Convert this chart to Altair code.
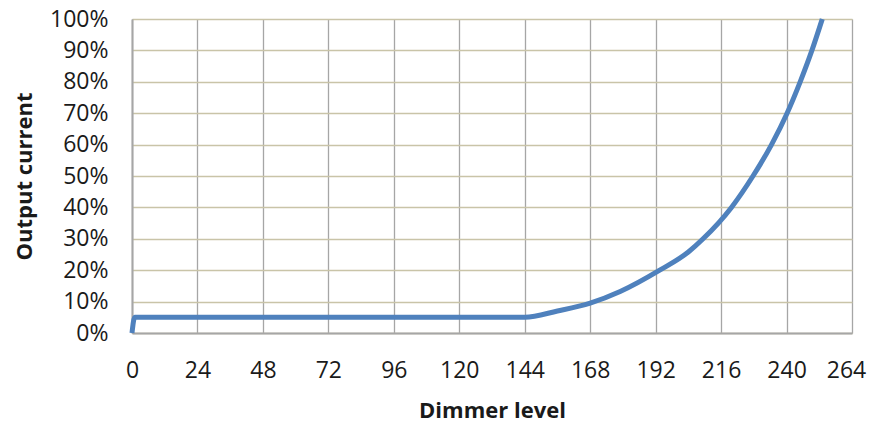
import altair as alt
import pandas as pd

# Dimmer level (x) and output current in % (y)
levels = [0, 1, 144, 156, 168, 179, 193.5, 204, 209.4, 219.8, 227.7, 234.5, 240.2, 245.0, 249.3, 253.1]
current = [0, 5, 5, 7, 9.5, 13.2, 20, 25.8, 30, 40, 50, 60, 70, 80, 90, 100]

x_ticks = list(range(0, 265, 24))
y_ticks = [i / 10 for i in range(0, 11)]

df = pd.DataFrame({"level": levels, "current": [c / 100 for c in current]})

FONT = "Open Sans"

chart = alt.Chart(df).mark_line(
    color="#4F81BD", strokeWidth=5, interpolate="monotone", strokeCap="butt"
).encode(
    x=alt.X(
        "level:Q",
        scale=alt.Scale(domain=[0, 264], nice=False, zero=True),
        axis=alt.Axis(
            values=x_ticks, title="Dimmer level", format="d",
            grid=True, gridColor="#A6A6A6", gridWidth=1.3,
            domainColor="#A6A6A6", domainWidth=2,
            ticks=False, labelPadding=26, labelFlush=False,
            labelOffset={"expr": "datum.value == 264 ? -6 : 0"},
            labelFont=FONT, labelFontSize=23, labelColor="#1a1a1a",
            titleFont=FONT, titleFontSize=22, titleFontWeight="bold", titleColor="#1a1a1a",
            titleX=360, titleY=77, titleBaseline="middle", titleAlign="center",
        ),
    ),
    y=alt.Y(
        "current:Q",
        scale=alt.Scale(domain=[0, 1], nice=False),
        axis=alt.Axis(
            values=y_ticks, format=".0%", title="Output current",
            grid=True, gridColor="#C9C4A8", gridWidth=1.3,
            domainColor="#A6A6A6", domainWidth=2,
            ticks=False, labelPadding=24, labelFlush=False,
            labelFont=FONT, labelFontSize=23, labelColor="#1a1a1a",
            titleFont=FONT, titleFontSize=22, titleFontWeight="bold", titleColor="#1a1a1a",
            titleAngle=-90, titleX=-108, titleY=157, titleBaseline="middle", titleAlign="center",
        ),
    ),
).properties(
    width=720,
    height=314,
    autosize=alt.AutoSizeParams(type="none"),
    padding={"left": 124, "top": 11, "right": 15, "bottom": 93},
).configure_view(stroke=None).configure(background="white")

chart.save("out.html", embed_options={"renderer": "svg", "actions": False})
